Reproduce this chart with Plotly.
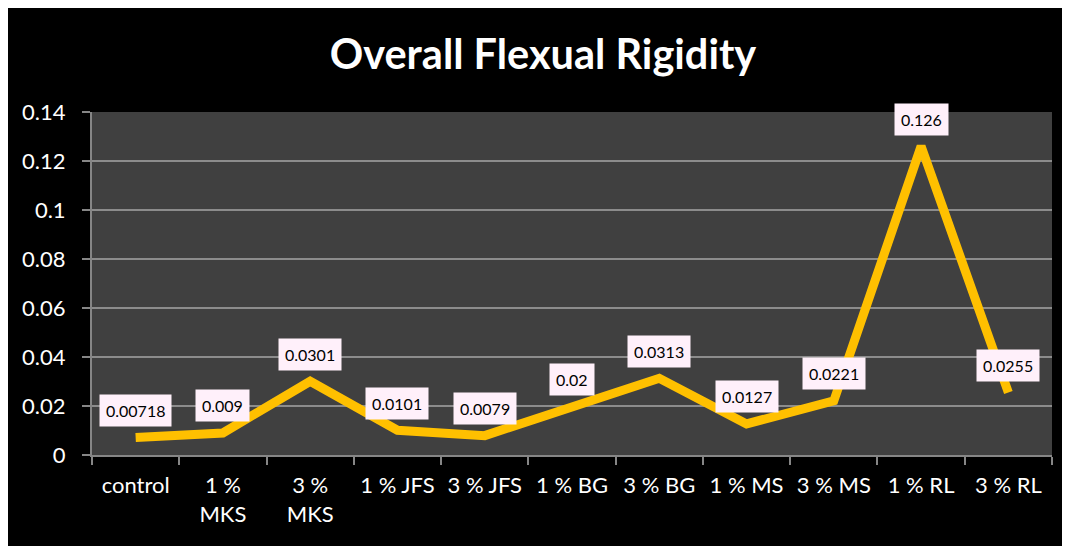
import plotly.graph_objects as go

categories = ["control", "1 %<br>MKS", "3 %<br>MKS", "1 % JFS", "3 % JFS", "1 % BG",
              "3 % BG", "1 % MS", "3 % MS", "1 % RL", "3 % RL"]
values = [0.00718, 0.009, 0.0301, 0.0101, 0.0079, 0.02, 0.0313, 0.0127, 0.0221, 0.126, 0.0255]
labels = ["0.00718", "0.009", "0.0301", "0.0101", "0.0079", "0.02", "0.0313", "0.0127",
          "0.0221", "0.126", "0.0255"]
y_ticks = [0, 0.02, 0.04, 0.06, 0.08, 0.1, 0.12, 0.14]
y_ticktext = ["0", "0.02", "0.04", "0.06", "0.08", "0.1", "0.12", "0.14"]

FONT = "Lato, Calibri, Carlito, sans-serif"

fig = go.Figure()
fig.add_trace(go.Scatter(
    x=categories, y=values, mode="lines",
    line=dict(color="#FFC000", width=9),
    hoverinfo="skip", showlegend=False,
))

for c, v, t in zip(categories, values, labels):
    fig.add_annotation(
        x=c, y=v, text=t, showarrow=False, yshift=27,
        font=dict(family=FONT, size=16, color="#000000"),
        bgcolor="#FFF0FA", borderpad=6,
    )

fig.update_layout(
    width=1070, height=546,
    paper_bgcolor="#000000", plot_bgcolor="#404040",
    margin=dict(l=84, r=26, t=104, b=99),
    title=dict(text="<b>Overall Flexual Rigidity</b>", x=0.5, xanchor="center",
               xref="container", y=0.914, yanchor="middle", yref="container",
               font=dict(family=FONT, size=41.5, color="#FFFFFF")),
    font=dict(family=FONT, color="#FFFFFF"),
    xaxis=dict(
        type="category", showgrid=False, showline=True, linecolor="#868686", linewidth=2,
        ticks="outside", tickson="boundaries", ticklen=8, tickcolor="#868686", tickwidth=2,
        tickfont=dict(family=FONT, size=22, color="#FFFFFF"), range=[-0.5, 10.5],
        ticklabelstandoff=10, fixedrange=True,
    ),
    yaxis=dict(
        range=[0, 0.14], tickvals=y_ticks, ticktext=y_ticktext,
        showgrid=True, gridcolor="#8C8C8C", gridwidth=2,
        showline=True, linecolor="#868686", linewidth=2, zeroline=False,
        ticks="outside", ticklen=8, tickcolor="#868686", tickwidth=2,
        tickfont=dict(family=FONT, size=22, color="#FFFFFF"), ticklabelstandoff=12,
    ),
)

fig.write_html("out.html")
